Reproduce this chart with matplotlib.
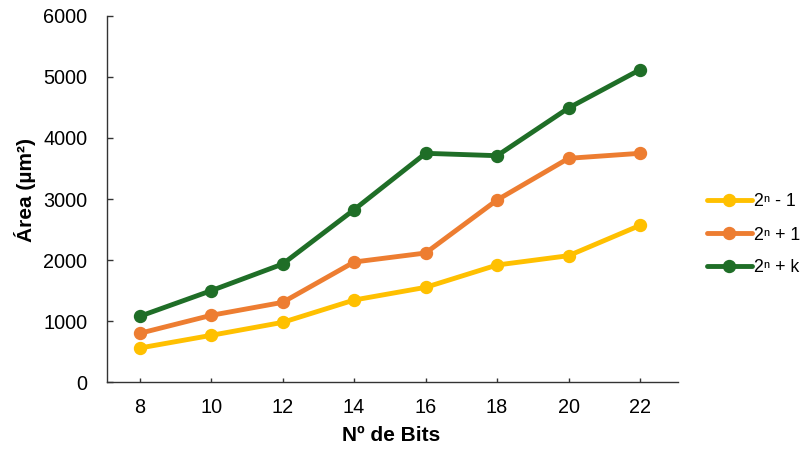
import matplotlib
matplotlib.use("Agg")
import matplotlib.pyplot as plt

plt.rcParams['font.family'] = ['Liberation Sans', 'DejaVu Sans']

bits = ["8", "10", "12", "14", "16", "18", "20", "22"]
serie_menos1 = [557, 765, 978, 1344, 1552, 1918, 2071, 2568]
serie_mais1 = [798, 1093, 1306, 1967, 2115, 2984, 3667, 3749]
serie_maisk = [1077, 1497, 1934, 2825, 3749, 3710, 4492, 5120]
labels = ["2ⁿ - 1", "2ⁿ + 1", "2ⁿ + k"]
colors = ["#FFC000", "#ED7D31", "#1F6E27"]
y_ticks = [0, 1000, 2000, 3000, 4000, 5000, 6000]

fig = plt.figure(figsize=(8.1, 4.53), dpi=100)
ax = fig.add_axes([0.1327, 0.1567, 0.7043, 0.808])

x = list(range(len(bits)))
for vals, lab, col in zip([serie_menos1, serie_mais1, serie_maisk], labels, colors):
    ax.plot(x, vals, color=col, linewidth=3.5, marker='o', markersize=8.6,
            label=lab, solid_capstyle='round', solid_joinstyle='round')

ax.set_xlim(-0.45, 7.53)
ax.set_ylim(0, 6000)
ax.set_xticks(x)
ax.set_xticklabels(bits)
ax.set_yticks(y_ticks)
ax.tick_params(axis='y', labelsize=14.3, direction='in', length=4,
               width=1, color='#333333', pad=14.4)
ax.tick_params(axis='x', labelsize=14.3, direction='in', length=3,
               width=1, color='#333333', pad=11.5)
for s in ['top', 'right']:
    ax.spines[s].set_visible(False)
for s in ['left', 'bottom']:
    ax.spines[s].set_color('#333333')
    ax.spines[s].set_linewidth(1)

ax.set_ylabel("Área (µm²)", fontsize=15, fontweight='bold')
ax.yaxis.set_label_coords(-0.125, 0.525)
ax.set_xlabel("Nº de Bits", fontsize=15, fontweight='bold')
ax.xaxis.set_label_coords(0.498, -0.12)

fig.legend(loc='center left', bbox_to_anchor=(707 / 810, (453 - 235) / 453),
           frameon=False, fontsize=12.8, handlelength=2.53, labelspacing=0.9,
           handletextpad=0.1, borderpad=0, borderaxespad=0)

fig.savefig("out.png", dpi=100)
